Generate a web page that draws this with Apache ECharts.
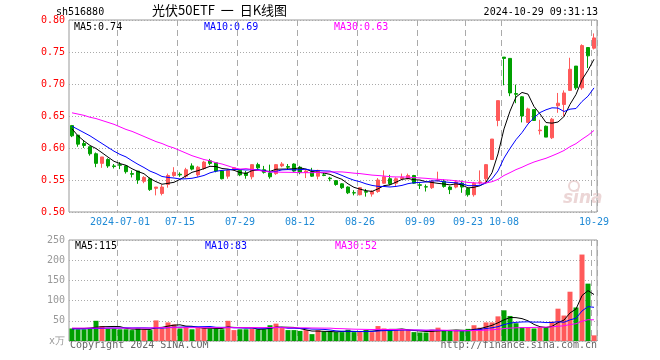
<!DOCTYPE html>
<html><head><meta charset="utf-8">
<script src="https://cdn.jsdelivr.net/npm/echarts@6/dist/echarts.min.js"></script>
<style>html,body{margin:0;padding:0;background:#fff}#c{width:660px;height:360px}</style>
</head><body><div id="c"></div>
<script>
const dates = [
'2024-06-19','2024-06-20','2024-06-21','2024-06-24','2024-06-25','2024-06-26','2024-06-27','2024-06-28',
'2024-07-01','2024-07-02','2024-07-03','2024-07-04','2024-07-05','2024-07-08','2024-07-09','2024-07-10','2024-07-11','2024-07-12',
'2024-07-15','2024-07-16','2024-07-17','2024-07-18','2024-07-19','2024-07-22','2024-07-23','2024-07-24','2024-07-25','2024-07-26',
'2024-07-29','2024-07-30','2024-07-31',
'2024-08-01','2024-08-02','2024-08-05','2024-08-06','2024-08-07','2024-08-08','2024-08-09','2024-08-12','2024-08-13','2024-08-14',
'2024-08-15','2024-08-16','2024-08-19','2024-08-20','2024-08-21','2024-08-22','2024-08-23','2024-08-26','2024-08-27','2024-08-28',
'2024-08-29','2024-08-30',
'2024-09-02','2024-09-03','2024-09-04','2024-09-05','2024-09-06','2024-09-09','2024-09-10','2024-09-11','2024-09-12','2024-09-13',
'2024-09-18','2024-09-19','2024-09-20','2024-09-23','2024-09-24','2024-09-25','2024-09-26','2024-09-27','2024-09-30',
'2024-10-08','2024-10-09','2024-10-10','2024-10-11','2024-10-14','2024-10-15','2024-10-16','2024-10-17','2024-10-18',
'2024-10-21','2024-10-22','2024-10-23','2024-10-24','2024-10-25','2024-10-28','2024-10-29'];

const tickLabels = {'2024-07-01':'2024-07-01','2024-07-15':'07-15','2024-07-29':'07-29','2024-08-12':'08-12',
  '2024-08-26':'08-26','2024-09-09':'09-09','2024-09-23':'09-23','2024-10-08':'10-08','2024-10-29':'10-29'};

const opens = [0.635,0.620,0.607,0.602,0.591,0.576,0.582,0.572,0.574,0.572,
0.560,0.564,0.548,0.552,0.537,0.529,0.543,0.557,0.559,0.556,
0.572,0.558,0.568,0.580,0.577,0.564,0.556,0.567,0.565,0.561,
0.555,0.574,0.566,0.561,0.560,0.572,0.571,0.575,0.570,0.562,
0.563,0.556,0.558,0.553,0.549,0.544,0.539,0.5302,0.527,0.532,
0.528,0.532,0.545,0.552,0.545,0.552,0.552,0.557,0.5425,0.5395,
0.538,0.549,0.548,0.539,0.539,0.545,0.537,0.527,0.546,0.552,
0.582,0.643,0.742,0.740,0.685,0.680,0.640,0.660,0.627,0.634,
0.616,0.666,0.668,0.690,0.728,0.694,0.757,0.756];
const closes = [0.619,0.606,0.604,0.591,0.576,0.586,0.572,0.571,0.573,0.563,
0.559,0.550,0.554,0.535,0.539,0.539,0.557,0.562,0.558,0.566,
0.567,0.570,0.578,0.576,0.564,0.552,0.565,0.569,0.558,0.557,
0.574,0.569,0.562,0.555,0.574,0.575,0.570,0.564,0.562,0.564,
0.556,0.565,0.557,0.552,0.543,0.538,0.530,0.5297,0.538,0.531,
0.532,0.550,0.555,0.544,0.552,0.554,0.557,0.545,0.5417,0.539,
0.548,0.550,0.540,0.535,0.547,0.539,0.527,0.545,0.547,0.574,
0.614,0.674,0.740,0.686,0.684,0.650,0.661,0.643,0.628,0.617,
0.645,0.670,0.686,0.723,0.694,0.760,0.744,0.772];
const lows = [0.617,0.602,0.600,0.588,0.570,0.569,0.569,0.568,0.567,0.560,
0.554,0.544,0.545,0.533,0.526,0.526,0.538,0.555,0.555,0.553,
0.565,0.555,0.566,0.573,0.562,0.551,0.552,0.565,0.556,0.552,
0.551,0.566,0.560,0.552,0.558,0.570,0.566,0.563,0.559,0.553,
0.555,0.551,0.556,0.548,0.541,0.536,0.528,0.526,0.526,0.524,
0.524,0.530,0.544,0.542,0.540,0.550,0.551,0.544,0.536,0.532,
0.536,0.548,0.538,0.528,0.537,0.530,0.524,0.524,0.543,0.545,
0.582,0.634,0.698,0.681,0.670,0.640,0.639,0.643,0.621,0.617,
0.614,0.655,0.650,0.689,0.691,0.691,0.725,0.754];
const highs = [0.636,0.620,0.612,0.602,0.593,0.586,0.584,0.575,0.578,0.573,
0.565,0.564,0.556,0.554,0.539,0.543,0.560,0.570,0.562,0.569,
0.576,0.572,0.580,0.583,0.578,0.564,0.567,0.570,0.567,0.564,
0.575,0.577,0.572,0.574,0.575,0.578,0.575,0.576,0.572,0.566,
0.569,0.566,0.561,0.555,0.550,0.545,0.540,0.534,0.539,0.536,
0.534,0.553,0.565,0.558,0.554,0.560,0.560,0.558,0.545,0.543,
0.550,0.563,0.551,0.541,0.550,0.549,0.538,0.547,0.565,0.575,
0.614,0.674,0.742,0.740,0.699,0.681,0.663,0.660,0.644,0.635,
0.647,0.686,0.690,0.741,0.728,0.762,0.757,0.779];
const volumes = [31,29,29,31,50,37,31,31,29,29,
27,31,29,27,51,31,46,41,31,35,
29,32,32,31,31,29,50,27,29,29,
31,29,29,39,43,32,27,27,25,27,
17,27,23,24,22,22,28,22,22,27,
22,37,31,27,27,27,27,22,21,21,
28,33,25,25,25,25,30,39,33,46,
46,61,76,62,44,34,34,31,34,34,
48,80,63,122,83,214,142,14];

const ma5Head = [0.630,0.619,0.611,0.604];
const ma10Head = [0.634,0.629,0.624,0.619,0.613,0.607,0.601,0.595,0.590];
const ma30Head = [0.655,0.653,0.651,0.648,0.646,0.643,0.640,0.637,0.633,0.629,
0.626,0.622,0.618,0.614,0.610,0.607,0.603,0.600,0.596,0.592,
0.588,0.585,0.582,0.580,0.577,0.575,0.572,0.569,0.567];
const vma5Head = [31,31,31,32];
const vma10Head = [30,30,30,31,31,31,32,32,32];
const vma30Head = [32,32,32,32,32,32,32,32,32,32,32,32,32,32,33,33,33,33,33,33,33,33,33,33,33,33,33,33,33];

function movingAvg(arr, n, head) {
  return arr.map((v, i) => {
    if (i < n - 1) return head[i];
    let s = 0; for (let k = i - n + 1; k <= i; k++) s += arr[k];
    return s / n;
  });
}
const ma5 = movingAvg(closes, 5, ma5Head), ma10 = movingAvg(closes, 10, ma10Head), ma30 = movingAvg(closes, 30, ma30Head);
const vma5 = movingAvg(volumes, 5, vma5Head), vma10 = movingAvg(volumes, 10, vma10Head), vma30 = movingAvg(volumes, 30, vma30Head);

const RED = '#ff5a5a', GREEN = '#00a000';
const MONO = 'DejaVu Sans Mono';
const labelIdx = new Set(dates.map((d, i) => tickLabels[d] ? i : -1).filter(i => i >= 0));
const isUp = closes.map((c, i) => c > opens[i] || (c === opens[i] && i > 0 && c >= closes[i - 1]));

const chart = echarts.init(document.getElementById('c'), null, {renderer: 'canvas'});
const vSplit = {show: true, interval: (i) => labelIdx.has(i), lineStyle: {color: '#aaa', width: 1, type: [6, 4]}};
const hSplit = {show: true, lineStyle: {color: '#aaa', width: 1, type: [1, 2]}};
const last = a => a[a.length - 1];

chart.setOption({
  animation: false,
  backgroundColor: '#fff',
  grid: [
    {left: 69, top: 20, width: 528, height: 192, show: true, borderColor: '#999', borderWidth: 1, backgroundColor: 'transparent'},
    {left: 69, top: 240, width: 528, height: 101, show: true, borderColor: '#999', borderWidth: 1, backgroundColor: 'transparent'}
  ],
  xAxis: [
    {type: 'category', gridIndex: 0, data: dates, boundaryGap: true,
     axisLine: {show: false}, axisTick: {show: false},
     axisLabel: {interval: (i) => labelIdx.has(i), formatter: v => tickLabels[v] || '', color: '#1f8ad6', fontFamily: MONO, fontSize: 10, margin: 5},
     splitLine: vSplit},
    {type: 'category', gridIndex: 1, data: dates, boundaryGap: true,
     axisLine: {show: false}, axisTick: {show: false}, axisLabel: {show: false}, splitLine: vSplit}
  ],
  yAxis: [
    {type: 'value', gridIndex: 0, min: 0.5, max: 0.8, interval: 0.05, scale: true,
     axisLine: {show: false}, axisTick: {show: false},
     axisLabel: {color: '#ff0000', fontFamily: MONO, fontSize: 10, margin: 4, formatter: v => v.toFixed(2)},
     splitLine: hSplit},
    {type: 'value', gridIndex: 1, min: 0, max: 250, interval: 50,
     axisLine: {show: false}, axisTick: {show: false},
     axisLabel: {color: '#999', fontFamily: MONO, fontSize: 10, margin: 4, formatter: v => v === 0 ? 'x万' : String(v)},
     splitLine: hSplit}
  ],
  series: [
    {type: 'candlestick', xAxisIndex: 0, yAxisIndex: 0, barWidth: 4,
     data: opens.map((o, i) => [o, closes[i], lows[i], highs[i]]),
     itemStyle: {color: RED, color0: GREEN, borderColor: RED, borderColor0: GREEN, borderWidth: 1}},
    {type: 'line', xAxisIndex: 0, yAxisIndex: 0, data: ma5, symbol: 'none', lineStyle: {color: '#000', width: 1}},
    {type: 'line', xAxisIndex: 0, yAxisIndex: 0, data: ma10, symbol: 'none', lineStyle: {color: '#0000ff', width: 1}},
    {type: 'line', xAxisIndex: 0, yAxisIndex: 0, data: ma30, symbol: 'none', lineStyle: {color: '#ff00ff', width: 1}},
    {type: 'bar', xAxisIndex: 1, yAxisIndex: 1, barWidth: 5,
     data: volumes.map((v, i) => ({value: v, itemStyle: {color: isUp[i] ? RED : GREEN}}))},
    {type: 'line', xAxisIndex: 1, yAxisIndex: 1, data: vma5, symbol: 'none', lineStyle: {color: '#000', width: 1}},
    {type: 'line', xAxisIndex: 1, yAxisIndex: 1, data: vma10, symbol: 'none', lineStyle: {color: '#0000ff', width: 1}},
    {type: 'line', xAxisIndex: 1, yAxisIndex: 1, data: vma30, symbol: 'none', lineStyle: {color: '#ff00ff', width: 1}}
  ],
  graphic: [
    {type: 'text', left: 56, top: 7, style: {text: 'sh516880', font: '10px "DejaVu Sans Mono"', fill: '#000'}},
    {type: 'text', left: 152, top: 4, style: {text: '光伏50ETF  一  日K线图', font: '13px "Noto Sans CJK SC"', fill: '#000'}},
    {type: 'text', right: 62, top: 7, style: {text: '2024-10-29 09:31:13', font: '10px "DejaVu Sans Mono"', fill: '#000'}},
    {type: 'text', left: 74, top: 22, style: {text: 'MA5:' + last(ma5).toFixed(2), font: '10px "DejaVu Sans Mono"', fill: '#000'}},
    {type: 'text', left: 204, top: 22, style: {text: 'MA10:' + last(ma10).toFixed(2), font: '10px "DejaVu Sans Mono"', fill: '#0000ff'}},
    {type: 'text', left: 334, top: 22, style: {text: 'MA30:' + last(ma30).toFixed(2), font: '10px "DejaVu Sans Mono"', fill: '#ff00ff'}},
    {type: 'text', left: 75, top: 241, style: {text: 'MA5:' + Math.round(last(vma5)), font: '10px "DejaVu Sans Mono"', fill: '#000'}},
    {type: 'text', left: 205, top: 241, style: {text: 'MA10:' + Math.round(last(vma10)), font: '10px "DejaVu Sans Mono"', fill: '#0000ff'}},
    {type: 'text', left: 335, top: 241, style: {text: 'MA30:' + Math.round(last(vma30)), font: '10px "DejaVu Sans Mono"', fill: '#ff00ff'}},
    {type: 'text', left: 70, top: 340, style: {text: 'Copyright 2024 SINA.COM', font: '10px "DejaVu Sans Mono"', fill: '#666'}},
    {type: 'text', right: 63, top: 340, style: {text: 'http://finance.sina.com.cn', font: '10px "DejaVu Sans Mono"', fill: '#666'}},
    {type: 'circle', z: 0, shape: {cx: 574, cy: 186, r: 5}, style: {fill: 'none', stroke: '#ecd6d6', lineWidth: 2}},
    {type: 'text', left: 563, top: 190, z: 0, style: {text: 'sina', font: 'italic bold 17px "DejaVu Sans"', fill: '#ecd6d6'}}
  ]
});
</script></body></html>
